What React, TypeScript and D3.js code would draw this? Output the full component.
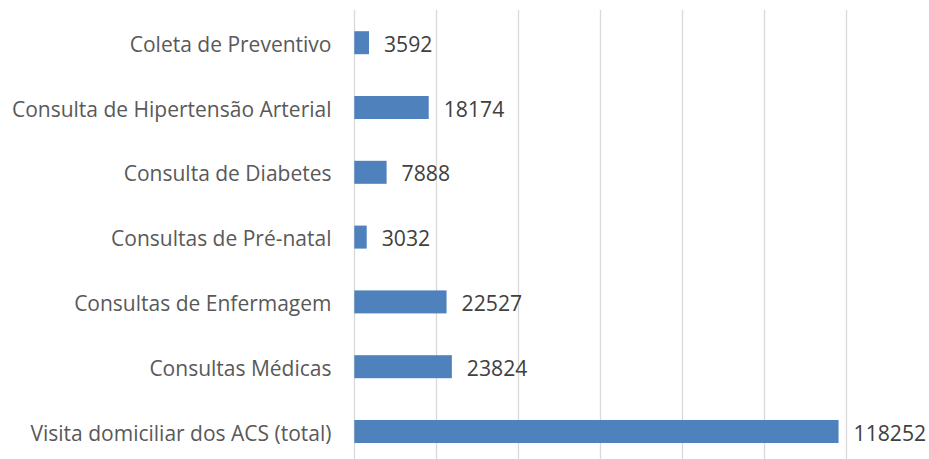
import React from "react";
import * as d3 from "d3";

const categories = [
  "Coleta de Preventivo",
  "Consulta de Hipertensão Arterial",
  "Consulta de Diabetes",
  "Consultas de Pré-natal",
  "Consultas de Enfermagem",
  "Consultas Médicas",
  "Visita domiciliar dos ACS (total)",
];
const values = [3592, 18174, 7888, 3032, 22527, 23824, 118252];
const xTicks = [0, 20000, 40000, 60000, 80000, 100000, 120000];

const W = 929;
const H = 459;

export default function App() {
  const x = d3.scaleLinear().domain([0, 120000]).range([354.3, 845.7]);
  const y = d3
    .scaleBand<string>()
    .domain(categories)
    .range([10.3, 463.9])
    .paddingInner(0.645)
    .paddingOuter(0.3225);
  const font = "'Open Sans', sans-serif";
  return (
    <svg
      width={W}
      height={H}
      style={{ position: "absolute", left: 0, top: 0, background: "#fff" }}
    >
      <rect x={0} y={0} width={W} height={H} fill="#fff" />
      {xTicks.map((t) => (
        <line
          key={t}
          x1={Math.round(x(t)) + 0.5}
          x2={Math.round(x(t)) + 0.5}
          y1={10}
          y2={464}
          stroke="#D9D9D9"
          strokeWidth={1.3}
        />
      ))}
      {categories.map((c, i) => {
        const yc = (y(c) as number) + y.bandwidth() / 2;
        return (
          <g key={c}>
            <rect
              x={x(0)}
              y={y(c)}
              width={x(values[i]) - x(0)}
              height={y.bandwidth()}
              fill="#4F81BD"
            />
            <text
              x={331.5}
              y={yc + 9}
              textAnchor="end"
              fontFamily={font}
              fontSize={21}
              fill="#595959"
            >
              {c}
            </text>
            <text
              x={x(values[i]) + 15}
              y={yc + 9}
              fontFamily={font}
              fontSize={21.2}
              fill="#404040"
            >
              {values[i]}
            </text>
          </g>
        );
      })}
    </svg>
  );
}
